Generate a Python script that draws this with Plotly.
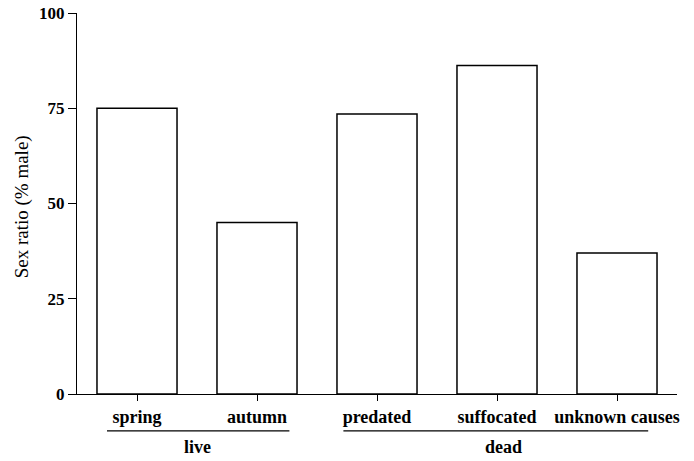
import plotly.graph_objects as go

categories = ["spring", "autumn", "predated", "suffocated", "unknown causes"]
sex_ratio = [75, 45, 73.5, 86.2, 37]
group_labels = ["live", "dead"]
group_spans = [(-0.25, 1.27), (1.72, 4.26)]
group_centers = [0.5, 3.05]
y_ticks = [0, 25, 50, 75, 100]
y_title = "Sex ratio (% male)"

FONT = "Liberation Serif"

fig = go.Figure()
fig.add_trace(go.Bar(
    x=list(range(len(categories))), y=sex_ratio, width=0.667,
    marker=dict(color="white", line=dict(color="black", width=1.5)),
))

shapes = []
annotations = []
for (x0, x1), lab, c in zip(group_spans, group_labels, group_centers):
    shapes.append(dict(type="line", xref="x", yref="paper", x0=x0, x1=x1,
                       y0=-0.097, y1=-0.097, line=dict(color="black", width=1.2)))
    annotations.append(dict(text="<b>" + lab + "</b>", xref="x", yref="paper", x=c,
                            y=-0.171, showarrow=False, yanchor="bottom",
                            font=dict(family=FONT, size=18, color="black")))
annotations.append(dict(text=y_title, xref="paper", yref="paper",
                        x=-55 / 600, y=0.49, textangle=-90, showarrow=False,
                        xanchor="center", yanchor="middle",
                        font=dict(family=FONT, size=19, color="black")))

fig.update_layout(
    width=694, height=461,
    margin=dict(l=77, r=17, t=13, b=67),
    plot_bgcolor="white", paper_bgcolor="white",
    showlegend=False,
    shapes=shapes, annotations=annotations,
    font=dict(family=FONT, color="black"),
    xaxis=dict(range=[-0.5, 4.5], tickmode="array", automargin=False,
               tickvals=list(range(len(categories))),
               ticktext=["<b>" + c + "</b>" for c in categories],
               showline=True, linecolor="black", linewidth=1.2,
               ticks="outside", ticklen=6, tickcolor="black",
               showgrid=False, zeroline=False,
               tickfont=dict(family=FONT, size=18, color="black")),
    yaxis=dict(range=[0, 100], tickvals=y_ticks, automargin=False,
               ticktext=["<b>%d</b>" % v for v in y_ticks],
               showline=True, linecolor="black", linewidth=1.2,
               ticks="outside", ticklen=8, tickcolor="black",
               showgrid=False, zeroline=False,
               tickfont=dict(family=FONT, size=17, color="black")),
)

fig.write_html("out.html", config={"displayModeBar": False},
               post_script="document.body.style.margin='0px';document.body.style.overflow='hidden';")
